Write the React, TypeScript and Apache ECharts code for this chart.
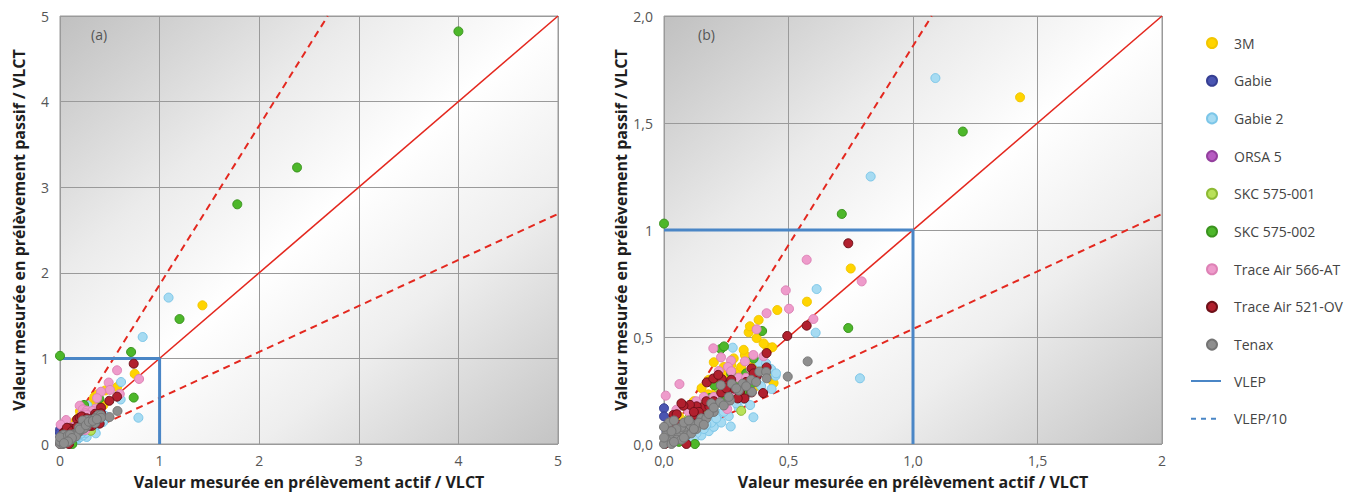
import React, { useEffect, useRef } from "react";
import * as echarts from "echarts";

const FONT = "'Open Sans', 'Noto Sans', sans-serif";

const SERIES_NAMES = [
  "3M",
  "Gabie",
  "Gabie 2",
  "ORSA 5",
  "SKC 575-001",
  "SKC 575-002",
  "Trace Air 566-AT",
  "Trace Air 521-OV",
  "Tenax",
];

const DATA_3M: number[][] = [
  [1.43, 1.62], [0.75, 0.82], [0.574, 0.665], [0.455, 0.626], [0.34, 0.522], [0.372, 0.495],
  [0.415, 0.452], [0.435, 0.452], [0.325, 0.416], [0.2, 0.382], [0.292, 0.335], [0.44, 0.285],
  [0.372, 0.272], [0.151, 0.261], [0.178, 0.232], [0.36, 0.38], [0.26, 0.31], [0.31, 0.36],
  [0.28, 0.4], [0.12, 0.2], [0.09, 0.17], [0.235, 0.33], [0.27, 0.37], [0.39, 0.365],
  [0.42, 0.31], [0.21, 0.25], [0.06, 0.13], [0.03, 0.08], [0.14, 0.19], [0.3, 0.27],
  [0.345, 0.55], [0.38, 0.58], [0.25, 0.29], [0.16, 0.15], [0.2, 0.2], [0.33, 0.33], [0.1, 0.12],
  [0.22, 0.28], [0.18, 0.3], [0.32, 0.44], [0.29, 0.3], [0.24, 0.36], [0.4, 0.47],
];
const DATA_GABIE: number[][] = [[0.0, 0.167], [0.0, 0.129], [0.01, 0.06]];
const DATA_GABIE2: number[][] = [
  [1.09, 1.71], [0.83, 1.25], [0.613, 0.724], [0.609, 0.52], [0.448, 0.319], [0.787, 0.307],
  [0.276, 0.45], [0.383, 0.381], [0.41, 0.377], [0.432, 0.257], [0.346, 0.182], [0.359, 0.125],
  [0.268, 0.082], [0.15, 0.04], [0.18, 0.06], [0.2, 0.08], [0.23, 0.1], [0.26, 0.13],
  [0.3, 0.17], [0.32, 0.21], [0.1, 0.03], [0.13, 0.05], [0.22, 0.14], [0.34, 0.26],
  [0.25, 0.2], [0.28, 0.23], [0.19, 0.1], [0.12, 0.02], [0.37, 0.3], [0.43, 0.35],
  [0.16, 0.07], [0.21, 0.12], [0.24, 0.15], [0.29, 0.19], [0.33, 0.23], [0.39, 0.27],
  [0.45, 0.33], [0.08, 0.02], [0.17, 0.09],
];
const DATA_ORSA5: number[][] = [[0.24, 0.27], [0.13, 0.11], [0.3, 0.22], [0.37, 0.32]];
const DATA_SKC001: number[][] = [[0.31, 0.155], [0.16, 0.19], [0.1, 0.12], [0.22, 0.26]];
const DATA_SKC002: number[][] = [
  [4.0, 4.82], [2.38, 3.23], [1.78, 2.8], [1.2, 1.46], [0.714, 1.075], [0.0, 1.03],
  [0.74, 0.542], [0.394, 0.528], [0.228, 0.444], [0.241, 0.456], [0.202, 0.275], [0.292, 0.236],
  [0.316, 0.247], [0.245, 0.21], [0.185, 0.215], [0.138, 0.165], [0.3, 0.3], [0.124, 0.0],
  [0.09, 0.05], [0.35, 0.28], [0.33, 0.33], [0.06, 0.01], [0.27, 0.33], [0.36, 0.4],
  [0.2, 0.18], [0.25, 0.26],
];
const DATA_TA566: number[][] = [
  [0.573, 0.861], [0.794, 0.76], [0.489, 0.718], [0.502, 0.632], [0.412, 0.611], [0.6, 0.584],
  [0.372, 0.536], [0.198, 0.447], [0.359, 0.416], [0.229, 0.405], [0.269, 0.39], [0.325, 0.386],
  [0.257, 0.36], [0.22, 0.341], [0.062, 0.28], [0.007, 0.226], [0.185, 0.17], [0.254, 0.163],
  [0.098, 0.153], [0.04, 0.1], [0.06, 0.06], [0.1, 0.09], [0.03, 0.04], [0.15, 0.13],
  [0.3, 0.31], [0.28, 0.25], [0.2, 0.22], [0.05, 0.16], [0.13, 0.2], [0.35, 0.35],
  [0.33, 0.31], [0.24, 0.28], [0.16, 0.22], [0.4, 0.41], [0.27, 0.34],
];
const DATA_TA521: number[][] = [
  [0.74, 0.938], [0.573, 0.553], [0.495, 0.505], [0.412, 0.425], [0.412, 0.358], [0.398, 0.238],
  [0.352, 0.353], [0.373, 0.319], [0.172, 0.288], [0.198, 0.306], [0.232, 0.303], [0.218, 0.323],
  [0.281, 0.259], [0.305, 0.243], [0.352, 0.241], [0.323, 0.213], [0.296, 0.213], [0.155, 0.172],
  [0.182, 0.176], [0.131, 0.176], [0.104, 0.183], [0.078, 0.179], [0.038, 0.136], [0.051, 0.139],
  [0.124, 0.136], [0.151, 0.123], [0.003, 0.0], [0.09, 0.0], [0.02, 0.08], [0.06, 0.09],
  [0.11, 0.1], [0.26, 0.28], [0.23, 0.24], [0.2, 0.2], [0.07, 0.19], [0.14, 0.15],
  [0.27, 0.3], [0.25, 0.26], [0.33, 0.29], [0.36, 0.33], [0.12, 0.15], [0.17, 0.2],
];
const DATA_TENAX: number[][] = [
  [0.577, 0.386], [0.497, 0.315], [0.383, 0.338], [0.41, 0.337], [0.412, 0.307], [0.272, 0.282],
  [0.316, 0.282], [0.265, 0.203], [0.225, 0.195], [0.2, 0.15], [0.15, 0.12], [0.17, 0.12],
  [0.12, 0.09], [0.13, 0.07], [0.1, 0.07], [0.02, 0.1], [0.01, 0.05], [0.02, 0.02],
  [0.04, 0.04], [0.06, 0.05], [0.08, 0.06], [0.0, 0.0], [0.03, 0.0], [0.05, 0.02],
  [0.07, 0.02], [0.09, 0.04], [0.11, 0.05], [0.04, 0.11], [0.0, 0.03],
  [0.35, 0.3], [0.3, 0.25], [0.18, 0.14], [0.24, 0.18], [0.228, 0.275], [0.353, 0.244],
  [0.19, 0.19], [0.07, 0.08], [0.05, 0.07], [0.03, 0.06], [0.0, 0.08], [0.14, 0.1],
  [0.16, 0.09], [0.08, 0.1], [0.1, 0.11], [0.2, 0.17], [0.26, 0.22], [0.29, 0.26],
  [0.33, 0.27], [0.37, 0.29], [0.12, 0.07], [0.08, 0.03], [0.04, 0.01],
];

const SERIES_DATA = [
  DATA_3M, DATA_GABIE, DATA_GABIE2, DATA_ORSA5, DATA_SKC001, DATA_SKC002, DATA_TA566, DATA_TA521, DATA_TENAX,
];
const SERIES_COLORS = [
  "#FFD400", "#4A55B2", "#A6DBF2", "#B75BC2", "#B9E15A", "#4DB72A", "#EE9BCB", "#B1202E", "#8E8E8E",
];
const SERIES_BORDERS = [
  "#F2C600", "#363F93", "#7CC6E8", "#94409E", "#8DBA33", "#3A931E", "#DE82B6", "#6E1018", "#747474",
];

// ratio lines (upper/lower factor around y = x)
const RATIO_FACTOR = 1.86;
const VLEP_LEVEL = 1;

const PANEL_MAX = [5, 2];
const PANEL_INTERVAL = [1, 0.5];

export default function App() {
  const ref = useRef<HTMLDivElement>(null);

  useEffect(() => {
    if (!ref.current) return;
    const chart = echarts.init(ref.current, undefined, { renderer: "svg" });

    const bg = new echarts.graphic.LinearGradient(0, 0, 1, 1, [
      { offset: 0, color: "#c0c0c0" },
      { offset: 0.3, color: "#ebebeb" },
      { offset: 0.5, color: "#ffffff" },
      { offset: 0.7, color: "#eeeeee" },
      { offset: 1, color: "#c4c4c4" },
    ]);

    const fmtY = [
      (v: number) => String(v),
      (v: number) => (v === 1 ? "1" : v.toFixed(1).replace(".", ",")),
    ];
    const fmtX = [
      (v: number) => String(v),
      (v: number) => (v === 2 ? "2" : v.toFixed(1).replace(".", ",")),
    ];

    const grids = [60, 664].map((left) => ({
      left,
      top: 16,
      width: 498,
      height: 429,
      show: true,
      backgroundColor: bg,
      borderColor: "#9a9a9a",
      borderWidth: 1,
    }));

    const axisCommon = {
      type: "value" as const,
      axisLine: { show: false },
      axisTick: { show: false },
      splitLine: { show: true, lineStyle: { color: "#9a9a9a", width: 1 } },
      nameLocation: "middle" as const,
      nameTextStyle: { fontWeight: "bold", fontSize: 16, color: "#1e1e1e", fontFamily: FONT },
    };

    const xAxis = [0, 1].map((i) => ({
      ...axisCommon,
      gridIndex: i,
      min: 0,
      max: PANEL_MAX[i],
      interval: PANEL_INTERVAL[i],
      name: "Valeur mesurée en prélèvement actif / VLCT",
      nameGap: 30,
      axisLabel: { color: "#555", fontSize: 14, fontFamily: FONT, margin: 9, formatter: fmtX[i] },
    }));
    const yAxis = [0, 1].map((i) => ({
      ...axisCommon,
      gridIndex: i,
      min: 0,
      max: PANEL_MAX[i],
      interval: PANEL_INTERVAL[i],
      name: "Valeur mesurée en prélèvement passif / VLCT",
      nameGap: i === 0 ? 33 : 35,
      axisLabel: { color: "#555", fontSize: 14, fontFamily: FONT, margin: 11, formatter: fmtY[i] },
    }));

    const series: any[] = [];
    [0, 1].forEach((g) => {
      const m = PANEL_MAX[g];
      const lineBase = {
        type: "line",
        xAxisIndex: g,
        yAxisIndex: g,
        showSymbol: false,
        symbol: "none",
        silent: true,
        z: 1,
      };
      series.push({
        ...lineBase,
        name: "ref-eq-" + g,
        data: [[0, 0], [m, m]],
        lineStyle: { color: "#E4281F", width: 1.6 },
      });
      series.push({
        ...lineBase,
        name: "ref-up-" + g,
        data: [[0, 0], [m / RATIO_FACTOR, m]],
        lineStyle: { color: "#E4281F", width: 2, type: [7, 5] },
      });
      series.push({
        ...lineBase,
        name: "ref-lo-" + g,
        data: [[0, 0], [m, m / RATIO_FACTOR]],
        lineStyle: { color: "#E4281F", width: 2, type: [7, 5] },
      });
      series.push({
        ...lineBase,
        name: "VLEP",
        data: [[0, VLEP_LEVEL], [VLEP_LEVEL, VLEP_LEVEL], [VLEP_LEVEL, 0]],
        lineStyle: { color: "#4A86C6", width: 3 },
        itemStyle: { color: "#4A86C6" },
      });
      series.push({
        ...lineBase,
        name: "VLEP/10",
        data: [],
        lineStyle: { color: "#4A86C6", width: 2, type: [5, 5] },
        itemStyle: { color: "#4A86C6" },
      });
      SERIES_NAMES.forEach((name, k) => {
        series.push({
          type: "scatter",
          name,
          xAxisIndex: g,
          yAxisIndex: g,
          data: SERIES_DATA[k],
          symbolSize: 9,
          itemStyle: { color: SERIES_COLORS[k], borderColor: SERIES_BORDERS[k], borderWidth: 1, opacity: 1 },
          z: 3,
        });
      });
    });

    chart.setOption({
      animation: false,
      backgroundColor: "#ffffff",
      textStyle: { fontFamily: FONT },
      grid: grids,
      xAxis,
      yAxis,
      legend: [
        {
          data: SERIES_NAMES,
          orient: "vertical",
          left: 1201,
          top: 31,
          itemWidth: 10,
          itemHeight: 10,
          itemGap: 23.7,
          icon: "circle",
          selectedMode: false,
          textStyle: { fontSize: 14, color: "#444", fontFamily: FONT, padding: [0, 0, 0, 12] },
        },
        {
          data: ["VLEP", "VLEP/10"],
          orient: "vertical",
          left: 1185,
          top: 369,
          itemWidth: 30,
          itemHeight: 10,
          itemGap: 23.7,
          selectedMode: false,
          itemStyle: { opacity: 0 },
          textStyle: { fontSize: 14, color: "#444", fontFamily: FONT, padding: [0, 0, 0, 8] },
        },
      ],
      graphic: [
        { type: "text", left: 91, top: 27, style: { text: "(a)", fontSize: 14, fill: "#555", fontFamily: FONT } },
        { type: "text", left: 698, top: 27, style: { text: "(b)", fontSize: 14, fill: "#555", fontFamily: FONT } },
      ],
      series,
    });

    return () => chart.dispose();
  }, []);

  return (
    <div
      ref={ref}
      style={{ position: "fixed", left: 0, top: 0, width: 1368, height: 495 }}
    />
  );
}
